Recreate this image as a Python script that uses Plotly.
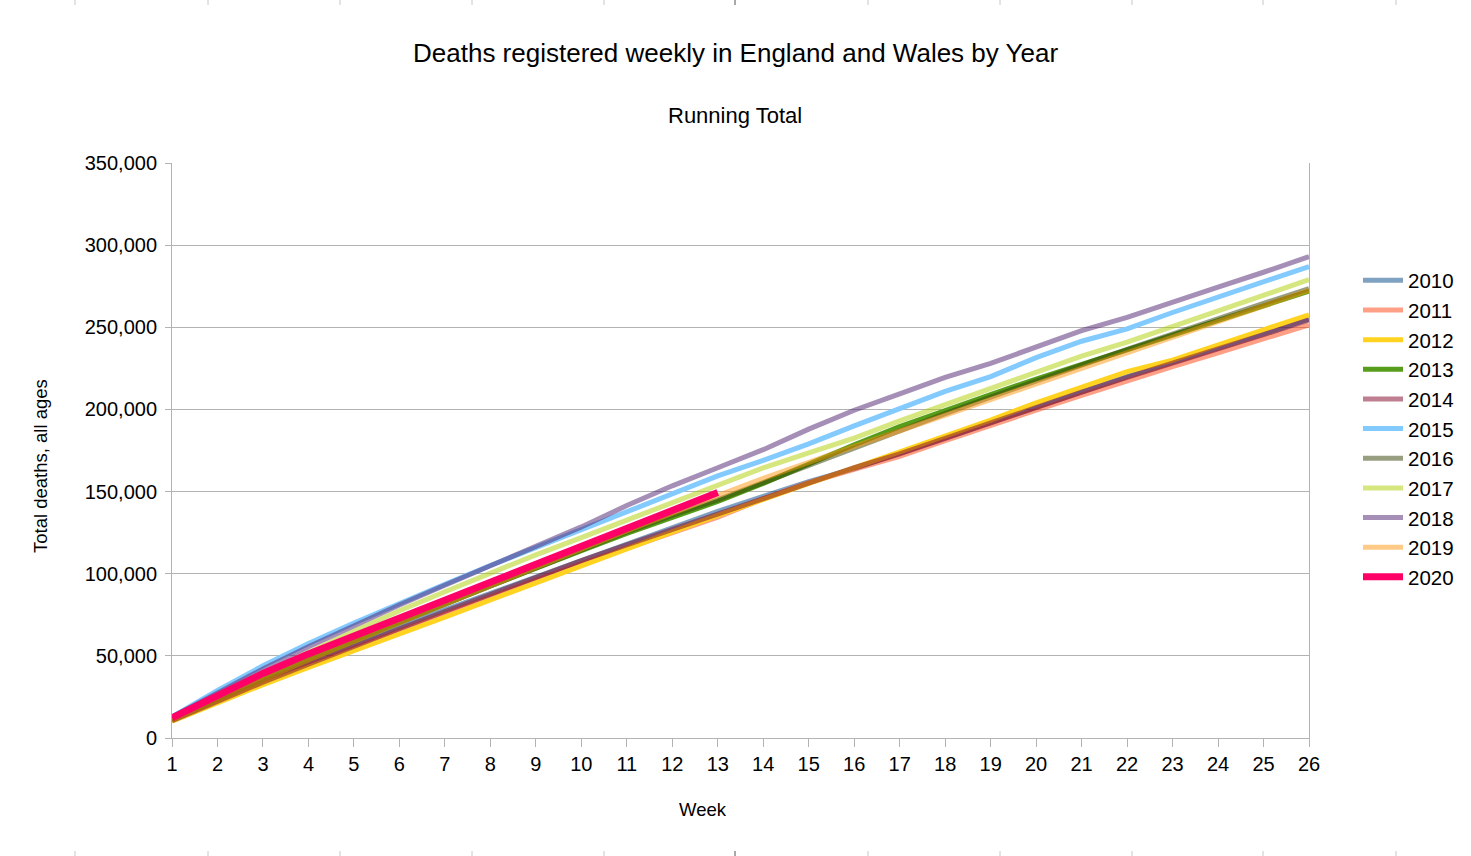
import plotly.graph_objects as go

weeks = list(range(1, 27))

# Running totals of deaths (thousands)
y2010 = [11.0, 23.0, 34.5, 46.0, 57.0, 67.5, 78.0, 88.0, 98.5, 108.5, 118.5, 128.5, 138.0,
         147.0, 156.0, 164.0, 173.0, 182.5, 192.0, 201.0, 210.5, 220.0, 228.5, 237.5, 246.0, 255.0]
y2011 = [10.8, 22.0, 33.0, 44.0, 54.5, 65.0, 75.5, 86.0, 96.0, 106.0, 115.5, 125.0, 134.5,
         145.5, 155.5, 163.5, 171.5, 181.0, 190.5, 199.5, 208.5, 217.5, 226.0, 234.5, 243.0, 251.5]
y2012 = [10.3, 21.5, 32.5, 43.0, 53.0, 63.0, 73.5, 84.0, 94.5, 105.0, 115.5, 125.5, 135.5,
         145.5, 155.0, 164.5, 174.0, 184.0, 193.5, 204.0, 213.5, 223.0, 230.0, 239.5, 248.5, 257.5]
y2013 = [11.0, 23.5, 35.5, 47.5, 59.0, 70.5, 81.5, 92.5, 103.5, 114.0, 124.5, 134.5, 144.0,
         155.0, 167.0, 178.5, 189.5, 199.5, 209.0, 218.5, 227.5, 236.0, 245.5, 254.5, 263.5, 272.0]
y2014 = [10.5, 22.5, 34.0, 45.0, 56.0, 66.5, 77.0, 87.5, 98.0, 108.0, 117.5, 127.0, 136.5,
         146.0, 155.5, 164.5, 173.0, 182.5, 192.0, 201.5, 210.5, 219.5, 228.0, 237.0, 245.5, 254.5]
y2015 = [12.8, 29.0, 44.0, 57.5, 70.0, 82.0, 93.5, 105.0, 116.0, 127.0, 137.5, 148.5, 159.5,
         169.0, 179.0, 190.0, 200.5, 211.0, 220.0, 231.5, 241.5, 249.0, 259.0, 268.5, 277.5, 287.0]
y2016 = [11.5, 24.0, 36.0, 48.0, 59.5, 70.5, 81.5, 92.5, 103.5, 114.5, 125.5, 135.5, 145.0,
         155.5, 166.0, 177.0, 187.5, 197.5, 207.5, 217.5, 227.0, 236.5, 246.0, 255.5, 264.5, 273.5]
y2017 = [11.9, 25.5, 39.0, 52.0, 65.0, 77.5, 89.0, 100.5, 111.5, 122.0, 132.5, 143.5, 154.0,
         164.5, 173.5, 182.5, 193.0, 203.0, 213.0, 222.5, 232.5, 241.0, 250.5, 260.0, 269.5, 279.0]
y2018 = [12.7, 27.7, 42.0, 55.5, 68.5, 81.0, 93.0, 105.0, 116.5, 128.5, 141.5, 153.5, 164.5,
         175.5, 188.0, 199.5, 209.5, 219.5, 228.0, 238.0, 248.0, 256.0, 265.5, 274.5, 283.5, 293.0]
y2019 = [10.9, 23.5, 35.5, 47.5, 59.0, 70.5, 81.5, 92.5, 104.0, 115.0, 126.0, 137.0, 147.5,
         158.0, 168.0, 177.5, 187.0, 196.5, 206.0, 215.5, 225.0, 234.0, 243.5, 253.0, 262.5, 272.5]
y2020 = [12.3, 26.3, 39.3, 51.2, 62.2, 73.1, 83.9, 94.7, 105.6, 116.6, 127.3, 138.2, 149.4]

years = ["2010", "2011", "2012", "2013", "2014", "2015", "2016", "2017", "2018", "2019", "2020"]
series = [y2010, y2011, y2012, y2013, y2014, y2015, y2016, y2017, y2018, y2019, y2020]
colors = ["rgba(0,69,134,0.5)", "rgba(255,66,14,0.5)", "#ffd320", "#579d1c",
          "rgba(126,0,33,0.5)", "#83caff", "rgba(49,64,4,0.5)", "rgba(174,207,0,0.5)",
          "rgba(75,31,111,0.5)", "rgba(255,149,14,0.5)", "#ff0066"]
widths = [5] * 10 + [7]

FONT = "Liberation Sans, Arial, sans-serif"

fig = go.Figure()
for name, vals, col, w in zip(years, series, colors, widths):
    fig.add_trace(go.Scatter(
        x=weeks[:len(vals)], y=[v * 1000 for v in vals], name=name, mode="lines",
        line=dict(color=col, width=w), hoverinfo="x+y+name"))

# plot-area geometry in pixels
L, R, T, B = 172, 1309, 163, 738
W, H = 1471, 856

def px(x):
    return (x - L) / (R - L)

def py(y):
    return (B - y) / (B - T)

shapes = []
for xm in [75, 208, 340, 472, 604, 735, 868, 1000, 1132, 1263, 1396]:
    c = "#555555" if xm == 735 else "#c8c8c8"
    shapes.append(dict(type="line", xref="paper", yref="paper", x0=px(xm), x1=px(xm),
                       y0=py(0), y1=py(5), line=dict(color=c, width=1)))
    shapes.append(dict(type="line", xref="paper", yref="paper", x0=px(xm), x1=px(xm),
                       y0=py(851), y1=py(856), line=dict(color=c, width=1)))

fig.update_layout(
    width=W, height=H, autosize=False,
    margin=dict(l=L, r=W - R, t=T, b=H - B, pad=0),
    paper_bgcolor="white", plot_bgcolor="white",
    font=dict(family=FONT, color="#000000", size=20),
    showlegend=True,
    legend=dict(x=px(1358), y=py(429), xanchor="left", yanchor="middle",
                font=dict(size=20.5, family=FONT), bgcolor="rgba(0,0,0,0)",
                traceorder="normal", itemwidth=40, tracegroupgap=0),
    xaxis=dict(range=[1, 26], tickmode="array", tickvals=weeks,
               ticktext=[str(w) for w in weeks], showgrid=False, zeroline=False,
               showline=True, linecolor="#b3b3b3", linewidth=1,
               ticks="outside", ticklen=8, tickcolor="#b3b3b3",
               tickfont=dict(size=20, family=FONT)),
    yaxis=dict(range=[0, 350000], tickmode="array",
               tickvals=[0, 50000, 100000, 150000, 200000, 250000, 300000, 350000],
               tickformat=",d", showgrid=True, gridcolor="#b3b3b3", gridwidth=1,
               zeroline=False, showline=True, mirror=True, linecolor="#b3b3b3",
               linewidth=1, ticks="outside", ticklen=6, tickcolor="#b3b3b3",
               ticklabelstandoff=4, tickfont=dict(size=20, family=FONT)),
    shapes=shapes,
    annotations=[
        dict(text="Deaths registered weekly in England and Wales by Year", xref="paper",
             yref="paper", x=px(735), y=py(53), showarrow=False, xanchor="center",
             yanchor="middle", font=dict(size=26, family=FONT)),
        dict(text="Running Total", xref="paper", yref="paper", x=px(735), y=py(115),
             showarrow=False, xanchor="center", yanchor="middle",
             font=dict(size=22, family=FONT)),
        dict(text="Week", xref="paper", yref="paper", x=px(703), y=py(810),
             showarrow=False, xanchor="center", yanchor="middle",
             font=dict(size=18.5, family=FONT)),
        dict(text="Total deaths, all ages", xref="paper", yref="paper", x=px(40),
             y=py(466), showarrow=False, xanchor="center", yanchor="middle",
             textangle=-90, font=dict(size=18.5, family=FONT)),
    ],
)

fig.write_html("out.html", config={"displayModeBar": False},
               post_script="document.body.style.margin='0';")
